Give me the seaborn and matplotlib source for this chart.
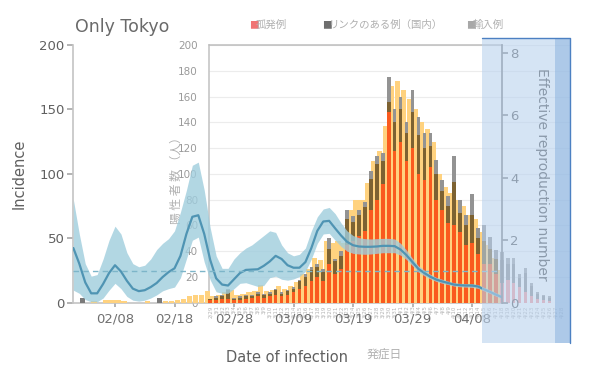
import matplotlib

matplotlib.use("Agg")
import matplotlib.pyplot as plt
import numpy as np
import pandas as pd
import seaborn as sns
from matplotlib.lines import Line2D
from matplotlib.patches import Rectangle

W, H = 595, 367

# ---- R chart (date of infection), days counted from 02/08 ----
rt_days = list(range(-7, 66))
rt_mean = [1.75, 1.25, 0.65, 0.30, 0.30, 0.60, 0.95, 1.20, 1.00, 0.70, 0.45, 0.37, 0.40, 0.50,
           0.63, 0.82, 0.98, 1.10, 1.50, 2.20, 2.75, 2.80, 2.20, 1.37, 0.78, 0.58, 0.55, 0.75,
           0.95, 1.05, 1.06, 1.07, 1.18, 1.32, 1.50, 1.40, 1.20, 1.12, 1.12, 1.30, 1.75, 2.30,
           2.60, 2.62, 2.38, 2.15, 1.95, 1.84, 1.80, 1.79, 1.79, 1.80, 1.82, 1.82, 1.81, 1.70,
           1.52, 1.30, 1.08, 0.95, 0.83, 0.74, 0.68, 0.63, 0.58, 0.56, 0.55, 0.55, 0.52, 0.43,
           0.35, 0.26, 0.18]
rt_upper = [3.30, 2.20, 1.25, 0.85, 0.90, 1.40, 2.00, 2.45, 2.20, 1.60, 1.25, 1.15, 1.20, 1.40,
            1.70, 1.90, 2.05, 2.30, 2.90, 3.60, 4.40, 4.50, 3.60, 2.40, 1.50, 1.10, 1.10, 1.40,
            1.60, 1.75, 1.85, 2.00, 2.15, 2.30, 2.25, 1.85, 1.60, 1.50, 1.55, 1.75, 2.30, 2.75,
            3.00, 3.05, 2.85, 2.55, 2.30, 2.15, 2.08, 2.05, 2.04, 2.05, 2.06, 2.06, 2.04, 1.90,
            1.68, 1.42, 1.18, 1.04, 0.91, 0.81, 0.75, 0.69, 0.64, 0.62, 0.61, 0.61, 0.58, 0.49,
            0.41, 0.32, 0.24]
rt_lower = [0.40, 0.30, 0.10, 0.03, 0.03, 0.15, 0.40, 0.62, 0.45, 0.20, 0.08, 0.05, 0.08, 0.15,
            0.25, 0.38, 0.45, 0.50, 0.80, 1.40, 2.00, 2.10, 1.30, 0.73, 0.35, 0.30, 0.30, 0.45,
            0.62, 0.64, 0.58, 0.52, 0.55, 0.80, 0.85, 0.75, 0.72, 0.76, 0.84, 1.00, 1.40, 1.90,
            2.20, 2.22, 2.00, 1.80, 1.65, 1.58, 1.56, 1.55, 1.56, 1.58, 1.60, 1.60, 1.60, 1.52,
            1.38, 1.18, 0.98, 0.86, 0.76, 0.68, 0.62, 0.58, 0.53, 0.51, 0.50, 0.49, 0.46, 0.38,
            0.30, 0.21, 0.13]

inc_days = list(range(-7, 65))
inc_local = [0, 0, 0, 1, 0, 2, 2, 2, 1, 0, 0, 0, 1, 0, 0, 1.5, 1, 2, 3, 5, 6, 6, 9,
             5, 6, 8, 10, 6, 7, 8, 9, 14, 9, 10, 13, 11, 13, 16, 22, 26, 35, 33, 48,
             46, 48, 46, 72, 80, 80, 93, 110, 118, 137, 168, 172, 165, 158, 150, 140, 135, 125,
             100, 90, 85, 80, 75, 68, 65, 55, 45, 35, 25]
imp_days = [-6, 7]
imp_vals = [4, 4]

r_tick_days = [0, 10, 20, 30, 40, 50, 60]
r_tick_labels = ["02/08", "02/18", "02/28", "03/09", "03/19", "03/29", "04/08"]

# ---- Tokyo onset chart (発症日 2/29 .. 4/28) ----
jp_dates = pd.date_range("2020-02-29", "2020-04-28")
jp_isolated = [2, 2, 3, 3, 2, 2, 3, 4, 5, 4, 5, 6, 5, 6, 8, 11, 13, 17, 20, 17,
               30, 22, 26, 45, 48, 52, 56, 72, 80, 92, 148, 118, 125, 110, 120, 100, 95, 105, 80, 72,
               62, 60, 55, 45, 46, 38, 30, 30, 22, 15, 18, 15, 12, 8, 5, 3, 2, 1, 0, 0]
jp_linked = [1, 2, 2, 7, 1, 2, 2, 1, 2, 2, 2, 4, 2, 3, 3, 6, 7, 8, 8, 7,
             12, 10, 10, 20, 15, 16, 18, 24, 28, 18, 8, 22, 25, 22, 28, 30, 25, 17, 20, 15,
             13, 34, 15, 15, 22, 12, 18, 12, 12, 18, 12, 15, 7, 15, 8, 4, 3, 3, 0, 0]
jp_imported = [0, 1, 1, 1, 1, 1, 1, 1, 1, 1, 1, 1, 1, 1, 1, 1, 2, 3, 2, 2,
               8, 2, 4, 7, 4, 4, 4, 6, 6, 6, 19, 10, 10, 8, 17, 14, 12, 10, 11, 8,
               8, 20, 10, 8, 16, 8, 12, 9, 7, 6, 5, 5, 3, 4, 2, 1, 1, 1, 0, 0]
jp_offset = 16  # 2/29 onset sits on the 02/24 infection day


def box(x0, x1, y0, y1):
    return [x0 / W, 1 - y1 / H, (x1 - x0) / W, (y1 - y0) / H]


def t_at(x):
    return (x - 115) / 5.95


sns.set_theme(style="white")
plt.rcParams["font.family"] = ["DejaVu Sans", "Noto Sans CJK JP"]
cjk = ["Noto Sans CJK JP", "DejaVu Sans"]

fig = plt.figure(figsize=(W / 100, H / 100), dpi=100)
fig.patch.set_facecolor("white")

# Tokyo chart frame, grid and labels
axj = fig.add_axes(box(209, 570, 45, 302.7), zorder=1)
axj.set_facecolor("none")
axj.set_xlim(t_at(209), t_at(570))
axj.set_ylim(0, 200)
for s in ["top", "right", "bottom"]:
    axj.spines[s].set_visible(False)
axj.spines["left"].set_color("#c8c8c8")
axj.set_yticks(range(0, 201, 20))
axj.tick_params(axis="y", length=0, pad=8, labelsize=7.5, labelcolor="#9a9a9a")
axj.grid(axis="y", color="#ececec", lw=0.8)
jp_t = [jp_offset + k for k in range(len(jp_dates))]
axj.set_xticks(jp_t)
axj.set_xticklabels([f"{d.month}/{d.day}" for d in jp_dates], rotation=90, fontsize=4,
                    color="#b4b4b4")
axj.tick_params(axis="x", length=0, pad=2)
fig.text(176 / W, 1 - 178 / H, "陽 性 者 数 （人）", rotation=90, ha="center", va="center",
         fontsize=8.5, color="#b0b0b0", family=cjk)
fig.text(384 / W, 1 - 354 / H, "発症日", ha="center", va="center", fontsize=8.5,
         color="#b0b0b0", family=cjk)

# R chart axes (incidence)
ax = fig.add_axes(box(73, 502, 45, 302.7), zorder=2)
ax.set_facecolor("none")
ax.set_xlim(t_at(73), t_at(502))
ax.set_ylim(0, 200)
for s in ["top", "right"]:
    ax.spines[s].set_visible(False)
for s in ["left", "bottom"]:
    ax.spines[s].set_color("#c4c4c4")
    ax.spines[s].set_linewidth(1.2)
ax.set_yticks([0, 50, 100, 150, 200])
ax.set_xticks(r_tick_days)
ax.set_xticklabels(r_tick_labels)
ax.tick_params(axis="y", left=True, length=4, color="#aaaaaa", labelsize=9.5,
               labelcolor="#606060", pad=2)
ax.tick_params(axis="x", bottom=True, length=3, color="#aaaaaa", labelsize=9.5,
               labelcolor="#707070", pad=4)
ax.set_ylabel("Incidence", fontsize=10.5, color="#606060", labelpad=9)
ax.set_xlabel("Date of infection", fontsize=10.5, color="#606060", labelpad=18)

# bars of both charts
axb = fig.add_axes(box(73, 570, 45, 302.7), zorder=3)
axb.set_facecolor("none")
axb.set_xlim(t_at(73), t_at(570))
axb.set_ylim(0, 200)
axb.axis("off")
axb.bar(np.array(inc_days) + 0.5, inc_local, width=0.9, color="#ffd27f", lw=0)
axb.bar(np.array(imp_days) + 0.5, imp_vals, width=0.9, color="#7a7a7a", lw=0)
tinted = [k <= 48 for k in range(len(jp_t))]
c_iso = ["#fa5a1e" if m else "#f59a9a" for m in tinted]
c_link = ["#7d6232" if m else "#8e8e8e" for m in tinted]
c_imp = ["#939393" if m else "#a4a4a4" for m in tinted]
iso = np.array(jp_isolated)
link = np.array(jp_linked)
axb.bar(jp_t, iso, width=0.62, color=c_iso, lw=0)
axb.bar(jp_t, link, bottom=iso, width=0.62, color=c_link, lw=0)
axb.bar(jp_t, jp_imported, bottom=iso + link, width=0.62, color=c_imp, lw=0)

# Rt axis
axr = fig.add_axes(box(73, 502, 45, 302.7), zorder=4)
axr.set_facecolor("none")
axr.set_xlim(t_at(73), t_at(502))
axr.set_ylim(0, 8.25)
for s in ["top", "left", "bottom"]:
    axr.spines[s].set_visible(False)
axr.spines["right"].set_color("#808080")
axr.yaxis.tick_right()
axr.yaxis.set_label_position("right")
axr.set_yticks([0, 2, 4, 6, 8])
axr.set_xticks([])
axr.tick_params(axis="y", right=True, length=4, color="#808080", labelsize=9.5,
                labelcolor="#555555", pad=2)
axr.fill_between(rt_days, rt_lower, rt_upper, color="#9fcddd", alpha=0.8, lw=0)
rt = pd.DataFrame({"day": rt_days, "R": rt_mean})
sns.lineplot(data=rt, x="day", y="R", ax=axr, color="#4f94b3", lw=1.6)
axr.axhline(1, color="#7db5c9", lw=1, ls=(0, (4, 3)))
axr.set_xlabel("")
axr.set_ylabel("Effective reproduction number", rotation=270, fontsize=10,
               color="#454545", labelpad=22)

fig.add_artist(Line2D([209 / W, 502 / W], [1 - 44.5 / H] * 2, color="#bdbdbd", lw=1.1))

# highlighted box on the right
fig.add_artist(Rectangle((482 / W, 1 - 343 / H), 88 / W, 305 / H, transform=fig.transFigure,
                         facecolor="#b9d2ee", alpha=0.6, edgecolor="none", zorder=10))
fig.add_artist(Rectangle((555 / W, 1 - 343 / H), 15 / W, 305 / H, transform=fig.transFigure,
                         facecolor="#86b0de", alpha=0.5, edgecolor="none", zorder=11))
fig.add_artist(Line2D([482 / W, 570 / W, 570 / W], [1 - 38 / H, 1 - 38 / H, 1 - 343 / H],
                      color="#4c80c2", lw=1, zorder=12))

# titles and legend
fig.text(75 / W, 1 - 27 / H, "Only Tokyo", fontsize=12.5, color="#6a6a6a", va="center")
leg_items = [(249, "#f07474", "孤発例"), (322, "#6e6e6e", "リンクのある例（国内）"),
             (466, "#a8a8a8", "輸入例")]
for x, c, lab in leg_items:
    fig.text(x / W, 1 - 25 / H, "■", color=c, fontsize=7, va="center", family=cjk)
    fig.text((x + 7) / W, 1 - 25 / H, lab, color="#b0b0b0", fontsize=7.5, va="center",
             family=cjk)

fig.savefig("out.png", dpi=100)
